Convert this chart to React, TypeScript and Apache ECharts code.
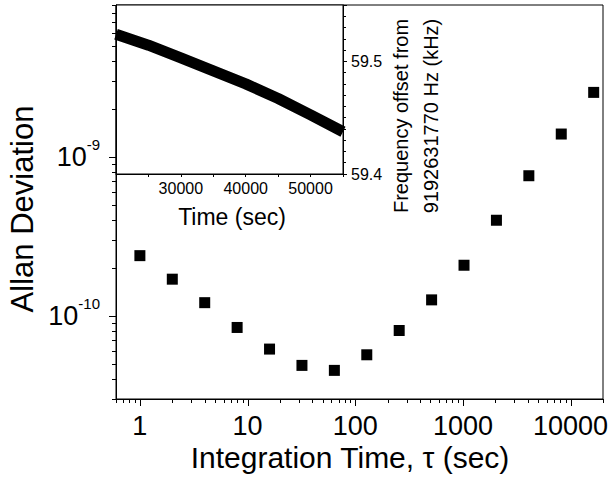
import React, { useEffect, useRef } from "react";
import * as echarts from "echarts";

// Main plot: Allan deviation vs integration time
const tau = [1, 2, 4, 8, 16, 32, 64, 128, 256, 512, 1024, 2048, 4096, 8192, 16384];
const allanDev = [
  2.39e-10, 1.7e-10, 1.21e-10, 8.45e-11, 6.18e-11, 4.88e-11, 4.54e-11, 5.69e-11,
  8.09e-11, 1.26e-10, 2.08e-10, 3.99e-10, 7.6e-10, 1.39e-9, 2.54e-9,
];

// Inset: frequency offset vs time
const insetTime = [20000, 25000, 30000, 35000, 40000, 45000, 50000, 55000];
const insetFreq = [59.524, 59.5143, 59.503, 59.4915, 59.48, 59.467, 59.4525, 59.4375];

// Axis ticks
const xDecades = [0.1, 1, 10, 100, 1000, 10000];
const yDecades = [1e-11, 1e-10, 1e-9];
const minorMultipliers = [2, 3, 4, 5, 6, 7, 8, 9];
const X_MIN = 0.6;
const X_MAX = 20000;
const Y_MIN = 3e-11;
const Y_MAX = 9e-9;

const FONT = '"Liberation Sans", Arial, Helvetica, sans-serif';

function buildTicks(decades: number[], lo: number, hi: number) {
  const out: { v: number; major: boolean }[] = [];
  decades.forEach((d) => {
    out.push({ v: d, major: true });
    minorMultipliers.forEach((m) => out.push({ v: m * d, major: false }));
  });
  return out.filter((t) => t.v >= lo * 0.999 && t.v <= hi * 1.001);
}

const isPow10 = (v: number) => {
  const l = Math.log10(v);
  return Math.abs(l - Math.round(l)) < 1e-6;
};

export default function App() {
  const ref = useRef<HTMLDivElement>(null);
  useEffect(() => {
    if (!ref.current) return;
    const chart = echarts.init(ref.current, undefined, { renderer: "svg" });
    const xTicks = buildTicks(xDecades, X_MIN, X_MAX);
    const yTicks = buildTicks(yDecades, Y_MIN, Y_MAX);

    const option: any = {
      animation: false,
      backgroundColor: "#fff",
      textStyle: { fontFamily: FONT, color: "#000" },
      grid: [
        { left: 116, top: 5, right: 10, bottom: 78, show: true, borderColor: "#000", borderWidth: 1, backgroundColor: "transparent" },
        { left: 116, top: 5, width: 227, height: 169, show: true, borderColor: "#000", borderWidth: 1, backgroundColor: "#fff" },
      ],
      xAxis: [
        {
          type: "log",
          logBase: 10,
          gridIndex: 0,
          min: X_MIN,
          max: X_MAX,
          axisLine: { show: true, lineStyle: { color: "#000", width: 1 } },
          axisTick: { show: false },
          splitLine: { show: false },
          axisLabel: {
            color: "#000",
            fontFamily: FONT,
            fontSize: 27,
            margin: 13,
            formatter: (v: number) => (isPow10(v) ? String(Math.round(v)) : ""),
          },
        },
        {
          type: "value",
          gridIndex: 1,
          min: 20000,
          max: 55000,
          interval: 10000,
          position: "bottom",
          axisLine: { show: true, lineStyle: { color: "#000", width: 1 } },
          axisTick: { show: true, inside: false, length: 3, lineStyle: { color: "#000" } },
          minorTick: { show: true, splitNumber: 2, length: 3, lineStyle: { color: "#000" } },
          splitLine: { show: false },
          axisLabel: {
            color: "#000",
            fontFamily: FONT,
            fontSize: 16,
            margin: 6,
            formatter: (v: number) => (v % 10000 === 0 && v > 20000 && v < 55000 ? String(v) : ""),
          },
        },
      ],
      yAxis: [
        {
          type: "log",
          logBase: 10,
          gridIndex: 0,
          min: Y_MIN,
          max: Y_MAX,
          axisLine: { show: true, lineStyle: { color: "#000", width: 1 } },
          axisTick: { show: false },
          splitLine: { show: false },
          axisLabel: {
            margin: 16,
            formatter: (v: number) => (isPow10(v) ? `{b|10}{s|${Math.round(Math.log10(v))}}` : ""),
            rich: {
              b: { fontSize: 27, fontFamily: FONT, color: "#000" },
              s: { fontSize: 15, fontFamily: FONT, color: "#000", padding: [0, 0, 24, 0] },
            },
          },
        },
        {
          type: "value",
          gridIndex: 1,
          position: "right",
          min: 59.4,
          max: 59.55,
          interval: 0.1,
          axisLine: { show: true, lineStyle: { color: "#000", width: 1 } },
          axisTick: { show: true, inside: false, length: 4, lineStyle: { color: "#000" } },
          minorTick: { show: true, splitNumber: 10, length: 3, lineStyle: { color: "#000" } },
          splitLine: { show: false },
          axisLabel: {
            color: "#000",
            fontFamily: FONT,
            fontSize: 16,
            margin: 8,
            formatter: (v: number) =>
              Math.abs(v * 10 - Math.round(v * 10)) < 1e-6 && v < 59.55 ? v.toFixed(1) : "",
          },
        },
      ],
      series: [
        {
          type: "scatter",
          xAxisIndex: 0,
          yAxisIndex: 0,
          symbol: "rect",
          symbolSize: 11,
          itemStyle: { color: "#000", opacity: 1 },
          data: tau.map((t, i) => [t, allanDev[i]]),
          z: 3,
        },
        {
          type: "line",
          xAxisIndex: 1,
          yAxisIndex: 1,
          showSymbol: false,
          symbol: "none",
          lineStyle: { color: "#000", width: 11, opacity: 1 },
          data: insetTime.map((t, i) => [t, insetFreq[i]]),
          clip: true,
          z: 3,
        },
        {
          type: "custom",
          xAxisIndex: 0,
          yAxisIndex: 0,
          clip: false,
          silent: true,
          encode: { x: 0, y: 1 },
          data: xTicks.map((t) => [t.v, Y_MIN, t.major ? 7 : 4]),
          renderItem: (params: any, api: any) => {
            const p = api.coord([api.value(0), Y_MIN]);
            const x = Math.round(p[0]) + 0.5;
            return {
              type: "line",
              shape: { x1: x, y1: p[1], x2: x, y2: p[1] + api.value(2) },
              style: { stroke: "#000", lineWidth: 1 },
            };
          },
          z: 4,
        },
        {
          type: "custom",
          xAxisIndex: 0,
          yAxisIndex: 0,
          clip: false,
          silent: true,
          encode: { x: 0, y: 1 },
          data: yTicks.map((t) => [X_MIN, t.v, t.major ? 7 : 4]),
          renderItem: (params: any, api: any) => {
            const p = api.coord([X_MIN, api.value(1)]);
            const y = Math.round(p[1]) + 0.5;
            return {
              type: "line",
              shape: { x1: p[0] - api.value(2), y1: y, x2: p[0], y2: y },
              style: { stroke: "#000", lineWidth: 1 },
            };
          },
          z: 4,
        },
      ],
      graphic: [
        {
          type: "text",
          x: 22,
          y: 209,
          rotation: Math.PI / 2,
          style: { text: "Allan Deviation", fontSize: 31, fontFamily: FONT, fill: "#000", align: "center", verticalAlign: "middle", textAlign: "center", textVerticalAlign: "middle" },
        },
        {
          type: "text",
          x: 350,
          y: 457,
          style: { text: "Integration Time, τ (sec)", fontSize: 30, fontFamily: FONT, fill: "#000", align: "center", verticalAlign: "middle", textAlign: "center", textVerticalAlign: "middle" },
        },
        {
          type: "text",
          x: 232,
          y: 217,
          style: { text: "Time (sec)", fontSize: 23, fontFamily: FONT, fill: "#000", align: "center", verticalAlign: "middle", textAlign: "center", textVerticalAlign: "middle" },
        },
        {
          type: "text",
          x: 401,
          y: 116,
          rotation: Math.PI / 2,
          style: { text: "Frequency offset from", fontSize: 20, fontFamily: FONT, fill: "#000", align: "center", verticalAlign: "middle", textAlign: "center", textVerticalAlign: "middle" },
        },
        {
          type: "text",
          x: 431,
          y: 116,
          rotation: Math.PI / 2,
          style: { text: "9192631770 Hz (kHz)", fontSize: 20, fontFamily: FONT, fill: "#000", align: "center", verticalAlign: "middle", textAlign: "center", textVerticalAlign: "middle" },
        },
      ],
    };
    chart.setOption(option);
    return () => chart.dispose();
  }, []);
  return (
    <div
      ref={ref}
      style={{ position: "fixed", left: 0, top: 0, width: 613, height: 477, background: "#fff" }}
    />
  );
}
